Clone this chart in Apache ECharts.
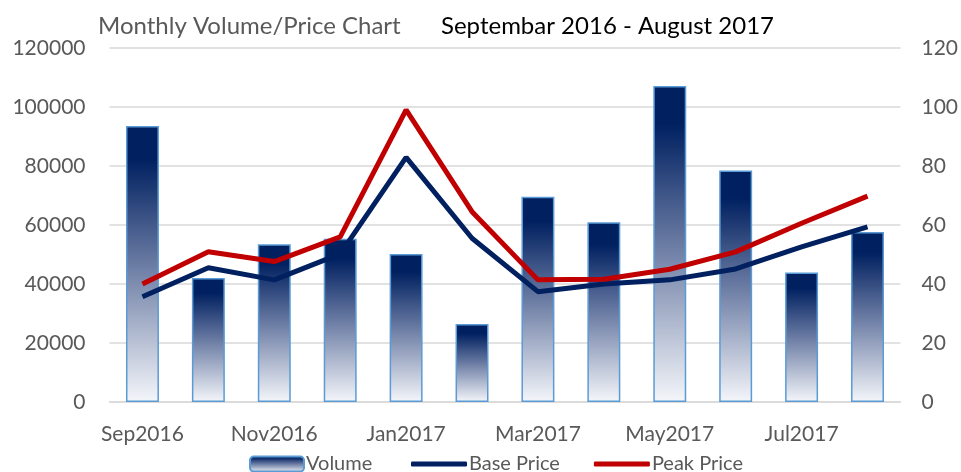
<!DOCTYPE html>
<html>
<head>
<meta charset="utf-8">
<script src="https://cdn.jsdelivr.net/npm/echarts@6/dist/echarts.min.js"></script>
<style>
  html, body { margin: 0; padding: 0; background: #fff; }
  #chart { width: 961px; height: 472px; }
</style>
</head>
<body>
<div id="chart"></div>
<script>
  // data
  var months = ['Sep2016', 'Oct2016', 'Nov2016', 'Dec2016', 'Jan2017', 'Feb2017',
    'Mar2017', 'Apr2017', 'May2017', 'Jun2017', 'Jul2017', 'Aug2017'];
  var volume = [93600, 42000, 53500, 55300, 50200, 26400, 69600, 60900, 107100, 78500, 43900, 57600];
  var basePrice = [35.7, 45.5, 41.4, 50.2, 82.9, 55.5, 37.4, 40, 41.4, 45.1, 52.6, 59.4];
  var peakPrice = [40, 50.9, 47.6, 56, 99, 64.5, 41.4, 41.6, 45, 50.9, 60.6, 69.8];

  var font = 'Lato, "Open Sans", sans-serif';
  var navy = '#002060';
  var red = '#c00000';
  var grey = '#595959';

  var barFill = new echarts.graphic.LinearGradient(0, 0, 0, 1, [
    { offset: 0, color: navy },
    { offset: 0.12, color: navy },
    { offset: 0.5, color: '#6a7ba3' },
    { offset: 1, color: '#f4f6fa' }
  ]);

  var legendText = { fontFamily: font, fontSize: 20, color: grey, padding: [0, 0, 0, -3] };

  var chart = echarts.init(document.getElementById('chart'));
  chart.setOption({
    animation: false,
    textStyle: { fontFamily: font },
    title: [
      { text: 'Monthly Volume/Price Chart', left: 93, top: 9,
        textStyle: { fontFamily: font, fontSize: 24, fontWeight: 'normal', color: grey } },
      { text: 'Septembar 2016 - August 2017', left: 436, top: 9,
        textStyle: { fontFamily: font, fontSize: 24, fontWeight: 'normal', color: '#000' } }
    ],
    legend: [
      { left: 244, top: 449, itemWidth: 54, itemHeight: 15,
        textStyle: legendText, data: ['Volume'] },
      { left: 406, top: 449, itemWidth: 56, itemHeight: 5, itemGap: 34,
        icon: 'roundRect', textStyle: legendText, data: ['Base Price', 'Peak Price'] }
    ],
    grid: { left: 109.5, right: 59.5, top: 48, bottom: 70 },
    xAxis: {
      type: 'category',
      data: months,
      axisLine: { lineStyle: { color: '#d9d9d9', width: 1.5 } },
      axisTick: { show: false },
      axisLabel: { interval: 1, color: grey, fontSize: 21, margin: 22 }
    },
    yAxis: [
      { type: 'value', min: 0, max: 120000, interval: 20000,
        axisLabel: { color: grey, fontSize: 21, margin: 24, formatter: function (v) { return String(v); } },
        splitLine: { lineStyle: { color: '#d9d9d9', width: 1.5 } } },
      { type: 'value', min: 0, max: 120, interval: 20, position: 'right',
        axisLabel: { color: grey, fontSize: 21, margin: 21 },
        splitLine: { show: false } }
    ],
    series: [
      { name: 'Volume', type: 'bar', data: volume, barWidth: '50%',
        itemStyle: { color: barFill, borderColor: '#5b9bd5', borderWidth: 1.5 } },
      { name: 'Base Price', type: 'line', yAxisIndex: 1, data: basePrice,
        symbol: 'none', lineStyle: { color: navy, width: 5 }, itemStyle: { color: navy } },
      { name: 'Peak Price', type: 'line', yAxisIndex: 1, data: peakPrice,
        symbol: 'none', lineStyle: { color: red, width: 5 }, itemStyle: { color: red } }
    ]
  });
</script>
</body>
</html>
